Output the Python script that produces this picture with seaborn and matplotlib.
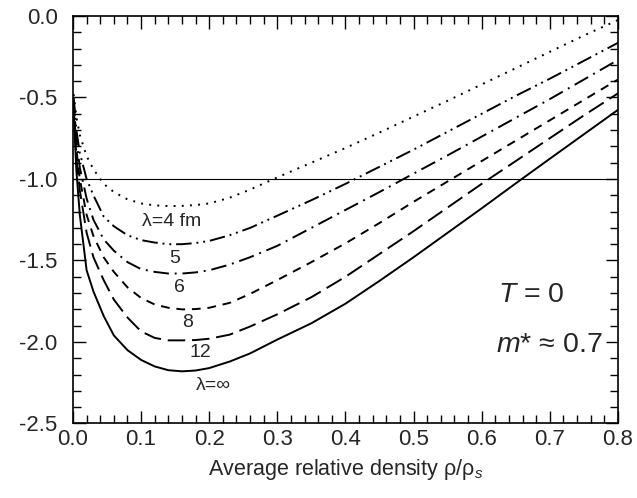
import matplotlib
matplotlib.use("Agg")
import matplotlib.pyplot as plt
import seaborn as sns
import pandas as pd
from matplotlib.ticker import MultipleLocator

# ---------------- data ----------------
density = [0.001, 0.005, 0.01, 0.02, 0.03, 0.045, 0.06, 0.08, 0.1, 0.12, 0.14,
           0.16, 0.18, 0.2, 0.23, 0.26, 0.3, 0.35, 0.4, 0.45, 0.5, 0.55, 0.6,
           0.65, 0.7, 0.75, 0.8]

energy_l4 = [-0.48, -0.62, -0.73, -0.86, -0.94, -1.03, -1.08, -1.125, -1.15,
             -1.162, -1.166, -1.165, -1.16, -1.15, -1.115, -1.065, -0.99,
             -0.90, -0.81, -0.715, -0.617, -0.52, -0.42, -0.32, -0.22, -0.12,
             -0.025]
energy_l5 = [-0.50, -0.70, -0.84, -1.0, -1.10, -1.23, -1.29, -1.345, -1.375,
             -1.39, -1.40, -1.40, -1.393, -1.38, -1.345, -1.30, -1.225, -1.13,
             -1.03, -0.925, -0.82, -0.71, -0.60, -0.49, -0.385, -0.275, -0.165]
energy_l6 = [-0.52, -0.76, -0.93, -1.12, -1.25, -1.37, -1.44, -1.51, -1.553,
             -1.57, -1.58, -1.58, -1.573, -1.56, -1.525, -1.48, -1.41, -1.30,
             -1.19, -1.08, -0.967, -0.855, -0.74, -0.625, -0.51, -0.39, -0.27]
energy_l8 = [-0.55, -0.82, -1.0, -1.22, -1.35, -1.48, -1.57, -1.665, -1.73,
             -1.77, -1.79, -1.80, -1.798, -1.79, -1.76, -1.705, -1.62, -1.51,
             -1.395, -1.27, -1.14, -1.015, -0.89, -0.765, -0.64, -0.515, -0.39]
energy_l12 = [-0.57, -0.87, -1.07, -1.33, -1.48, -1.62, -1.74, -1.85, -1.935,
              -1.975, -1.99, -1.99, -1.988, -1.98, -1.955, -1.905, -1.83,
              -1.725, -1.60, -1.46, -1.32, -1.175, -1.03, -0.89, -0.75, -0.61,
              -0.475]
energy_linf = [-0.60, -0.95, -1.22, -1.56, -1.69, -1.84, -1.96, -2.05, -2.11,
               -2.15, -2.173, -2.18, -2.175, -2.16, -2.12, -2.07, -1.985,
               -1.885, -1.765, -1.625, -1.48, -1.33, -1.18, -1.027, -0.876,
               -0.726, -0.576]

series_names = ["4", "5", "6", "8", "12", "inf"]
series_values = [energy_l4, energy_l5, energy_l6, energy_l8, energy_l12, energy_linf]

curve_labels = ["λ=4 fm", "5", "6", "8", "12", "λ=∞"]
xticks = [0.0, 0.1, 0.2, 0.3, 0.4, 0.5, 0.6, 0.7, 0.8]
yticks = [0.0, -0.5, -1.0, -1.5, -2.0, -2.5]
xtick_labels = ["0.0", "0.1", "0.2", "0.3", "0.4", "0.5", "0.6", "0.7", "0.8"]
ytick_labels = ["0.0", "-0.5", "-1.0", "-1.5", "-2.0", "-2.5"]

# ---------------- styling ----------------
sns.set_style("ticks")
plt.rcParams["font.family"] = ["Liberation Sans", "DejaVu Sans"]
plt.rcParams["mathtext.fontset"] = "custom"
plt.rcParams["mathtext.rm"] = "Liberation Sans"
plt.rcParams["mathtext.it"] = "Liberation Sans:italic"
plt.rcParams["axes.unicode_minus"] = False

df = pd.concat(
    [pd.DataFrame({"x": density, "y": vals, "lam": name})
     for name, vals in zip(series_names, series_values)],
    ignore_index=True,
)

dash_map = {
    "4": (1, 3.2),
    "5": (8, 2.5, 1, 2.5, 1, 2.5),
    "6": (8, 3, 1, 3),
    "8": (4.5, 3.5),
    "12": (9, 3.5),
    "inf": "",
}

fig = plt.figure(figsize=(6.37, 4.98), dpi=100)
ax = fig.add_axes([0.1146, 0.1496, 0.8554, 0.8183])

sns.lineplot(data=df, x="x", y="y", style="lam", dashes=dash_map,
             style_order=series_names, color="black", linewidth=1.4,
             legend=False, ax=ax, sort=False, estimator=None)

ax.axhline(-1.0, color="black", linewidth=0.8, zorder=1)

ax.set_xlim(0.0, 0.8)
ax.set_ylim(-2.5, 0.0)
ax.set_xticks(xticks)
ax.set_xticklabels(xtick_labels)
ax.set_yticks(yticks)
ax.set_yticklabels(ytick_labels)
ax.xaxis.set_minor_locator(MultipleLocator(0.02))
ax.yaxis.set_minor_locator(MultipleLocator(0.1))
ax.tick_params(which="both", direction="in", top=True, right=True,
               color="black", width=1.0, labelsize=16)
ax.tick_params(which="major", length=9)
ax.tick_params(which="minor", length=5.5)
ax.tick_params(axis="y", which="major", pad=11)
ax.tick_params(axis="x", which="major", pad=4)
for s in ax.spines.values():
    s.set_linewidth(1.2)
    s.set_color("black")

ax.set_xlabel("Average relative density ρ/ρ$_s$", fontsize=15.5, labelpad=5)
ax.set_ylabel("")

label_pos = [(0.145, -1.258), (0.150, -1.487), (0.157, -1.665),
             (0.168, -1.881), (0.187, -2.066), (0.206, -2.264)]
for txt, (lx, ly) in zip(curve_labels, label_pos):
    ax.text(lx, ly, txt, fontsize=14, ha="center", va="center")

ax.text(0.624, -1.71, "$T$ = 0", fontsize=20.5, ha="left", va="center")
ax.text(0.621, -2.02, "$m$* ≈ 0.7", fontsize=20.5, ha="left", va="center")

fig.savefig("out.png", dpi=100)
